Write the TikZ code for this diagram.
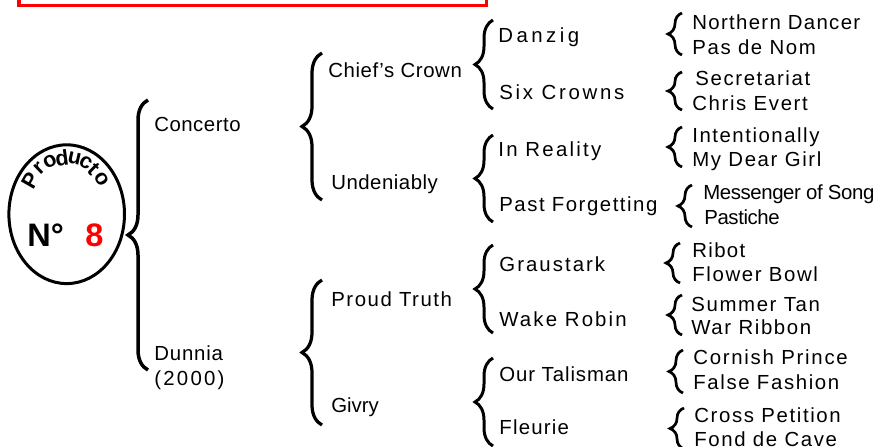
\documentclass[tikz,border=0pt]{standalone}
\usepackage{fontspec}
\setmainfont{Liberation Sans}
\usetikzlibrary{calc,shapes.geometric,decorations.pathreplacing}

\begin{document}
\begin{tikzpicture}[x=0.02cm, y=0.02cm,
  lbl/.style={anchor=west, inner sep=0pt, text height=8.3pt, text depth=0pt,
    font=\fontsize{11.6}{14}\selectfont\addfontfeature{LetterSpace=#1}},
  lbl/.default=0,
  num/.style={anchor=west, inner sep=0pt, text height=13.2pt, text depth=0pt,
    font=\bfseries\fontsize{18.5}{20}\selectfont},
  sealchar/.style={inner sep=0pt, font=\bfseries\fontsize{12.3}{14}\selectfont},
  brc/.style={decorate, decoration={brace, amplitude=#1}},
  bigbrc/.style={brc=0.4cm, line width=0.07cm},
  midbrc/.style={brc=0.4cm, line width=0.065cm},
  subbrc/.style={brc=0.36cm, line width=0.06cm},
  leafbrc/.style={brc=0.28cm, line width=0.054cm}]

  \useasboundingbox (0,0) rectangle (875,-446);
  \clip (0,0) rectangle (875,-446);

  %% ================= TOP FRAME (cut off) =================
  \draw[red, line width=0.066cm] (19,30) rectangle (486.7,-5.7);

  %% ================= SEAL: Producto N° 8 =================
  \node[draw, ellipse, line width=0.06cm, inner sep=0pt,
        minimum width=2.312cm, minimum height=2.776cm] (seal) at (66.7,-214.2) {};
  % word bent along the upper rim, one letter at a time
  \foreach \ch/\t [count=\i] in {P/144, r/127, o/112, d/96, u/80, c/65, t/52, o/38}
    \node[sealchar, rotate={atan2(sin(\t)/57, cos(\t)/45)-90}] (ch\i)
      at ($(seal.center)+(\t:45 and 57)$) {\ch};
  \node[num] (no) at (27,-235) {N°};
  \node[num, red] (eight) at (85,-235) {8};

  %% ================= LEVEL 1 =================
  \node[lbl=2.5] (concerto) at (154,-124) {Concerto};
  \node[lbl=4] (dunnia) at (154,-353) {Dunnia};
  \node[lbl=11] (year) at (154,-378) {(2000)};

  %% ================= LEVEL 2 =================
  \node[lbl=3] (chief) at (328,-70) {Chief’s Crown};
  \node[lbl=2.5] (undeniably) at (331,-182) {Undeniably};
  \node[lbl=7.5] (proud) at (331,-299) {Proud Truth};
  \node[lbl] (givry) at (331,-405) {Givry};

  %% ================= LEVEL 3 =================
  \node[lbl=17] (danzig) at (498,-35) {Danzig};
  \node[lbl=13.5] (sixcrowns) at (499,-92) {Six Crowns};
  \node[lbl=11] (inreality) at (498,-149) {In Reality};
  \node[lbl=7.5] (pastforg) at (499,-204) {Past Forgetting};
  \node[lbl=10] (graustark) at (499,-264) {Graustark};
  \node[lbl=10.5] (wakerobin) at (499,-319) {Wake Robin};
  \node[lbl=4.5] (talisman) at (499,-374) {Our Talisman};
  \node[lbl=6] (fleurie) at (499,-427) {Fleurie};

  %% ================= LEVEL 4 =================
  \node[lbl=6.5] (northern) at (692,-22) {Northern Dancer};
  \node[lbl=8] (pasdenom) at (692,-47) {Pas de Nom};
  \node[lbl=8] (secretariat) at (695,-78) {Secretariat};
  \node[lbl=8] (chris) at (692,-103) {Chris Evert};
  \node[lbl=7.5] (intent) at (692,-135) {Intentionally};
  \node[lbl=8] (mydear) at (692,-159) {My Dear Girl};
  \node[lbl=-2] (messenger) at (703,-192) {Messenger of Song};
  \node[lbl=-2] (pastiche) at (704,-217) {Pastiche};
  \node[lbl=6.5] (ribot) at (692,-250) {Ribot};
  \node[lbl=8] (flower) at (692,-274) {Flower Bowl};
  \node[lbl=8] (summer) at (691,-304) {Summer Tan};
  \node[lbl=8] (war) at (691,-327) {War Ribbon};
  \node[lbl=8.5] (cornish) at (693,-357) {Cornish Prince};
  \node[lbl=8] (falsef) at (693,-382) {False Fashion};
  \node[lbl=8] (cross) at (694,-415) {Cross Petition};
  \node[lbl=8] (fond) at (694,-439) {Fond de Cave};

  %% ================= BRACES =================
  % seal -> first generation
  \draw[bigbrc] ($(dunnia.west)+(-6,-17)$) -- ($(concerto.west)+(-6,24)$);

  % second generation
  \draw[midbrc] ($(chief.west |- undeniably.west)+(-6,-18)$) -- ($(chief.west)+(-6,17)$);
  \draw[midbrc] ($(proud.west |- givry.west)+(-9,-20)$) -- ($(proud.west)+(-9,19)$);

  % third generation
  \draw[subbrc] ($(danzig.west |- sixcrowns.west)+(-5,-17)$) -- ($(danzig.west)+(-5,15)$);
  \draw[subbrc] ($(inreality.west |- pastforg.west)+(-5,-18)$) -- ($(inreality.west)+(-5,14)$);
  \draw[subbrc] ($(graustark.west |- wakerobin.west)+(-6,-14)$) -- ($(graustark.west)+(-6,19)$);
  \draw[subbrc] ($(talisman.west |- fleurie.west)+(-6,-19)$) -- ($(talisman.west)+(-6,16)$);

  % fourth generation
  \draw[leafbrc] ($(northern.west |- pasdenom.west)+(-10,-8)$) -- ($(northern.west)+(-10,9)$);
  \draw[leafbrc] ($(chris.west)+(-10,-7)$) -- ($(chris.west |- secretariat.west)+(-10,6)$);
  \draw[leafbrc] ($(intent.west |- mydear.west)+(-10,-8)$) -- ($(intent.west)+(-10,8)$);
  \draw[leafbrc] ($(messenger.west |- pastiche.west)+(-11,-10)$) -- ($(messenger.west)+(-11,7)$);
  \draw[leafbrc] ($(ribot.west |- flower.west)+(-12,-9)$) -- ($(ribot.west)+(-12,7)$);
  \draw[leafbrc] ($(summer.west |- war.west)+(-9,-8)$) -- ($(summer.west)+(-9,9)$);
  \draw[leafbrc] ($(cornish.west |- falsef.west)+(-10,-11)$) -- ($(cornish.west)+(-10,7)$);
  \draw[leafbrc] ($(cross.west |- fond.west)+(-10,-10)$) -- ($(cross.west)+(-10,7)$);

\end{tikzpicture}
\end{document}
